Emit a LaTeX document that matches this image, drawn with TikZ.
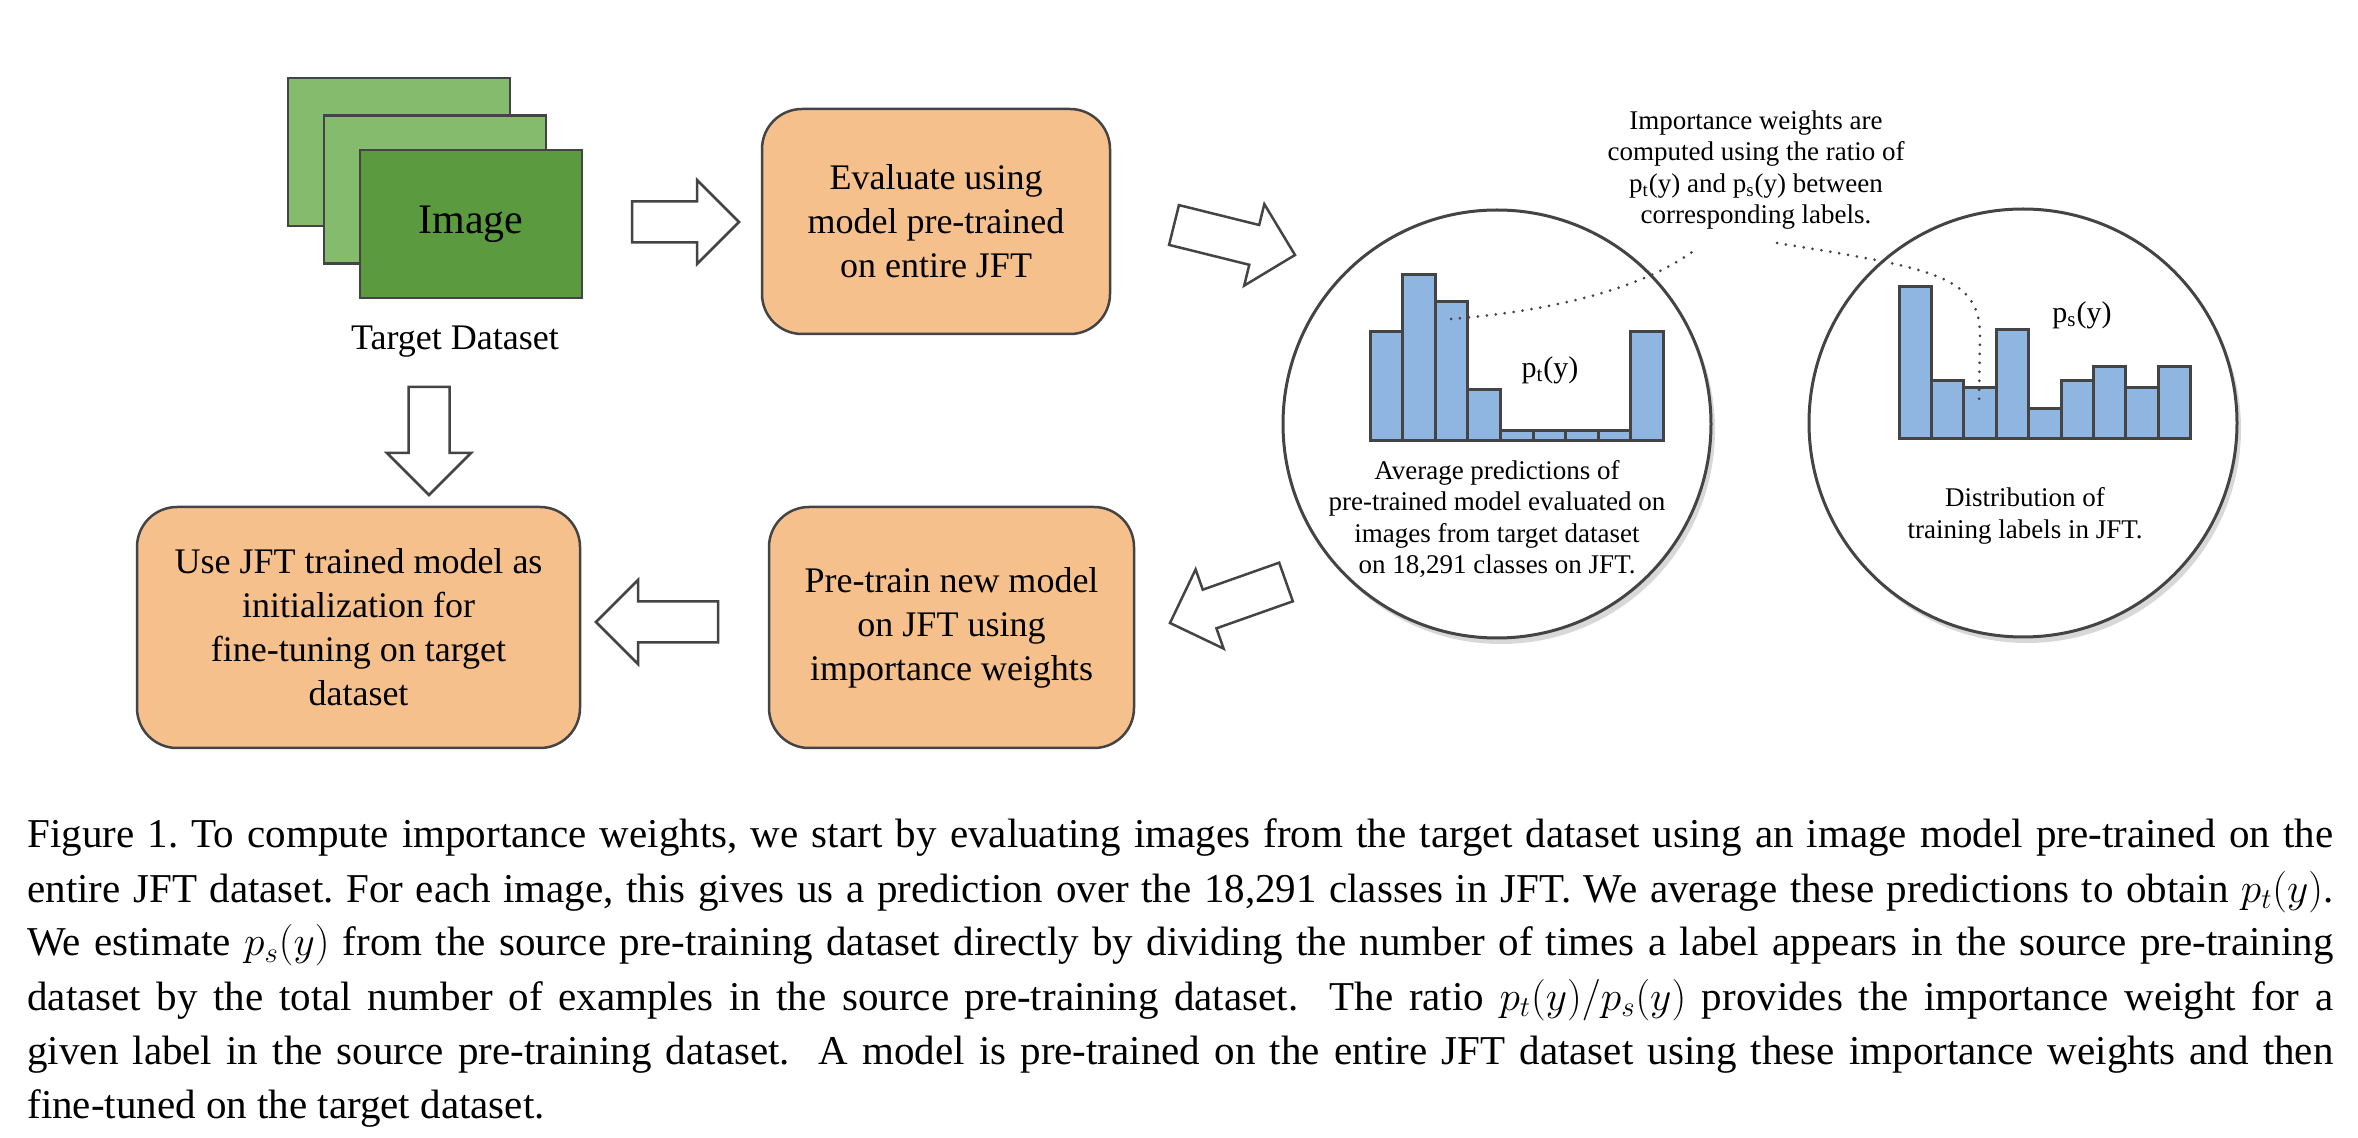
\documentclass[tikz,border=0pt]{standalone}
\usepackage{fontspec}
\setmainfont{Liberation Serif}
\usetikzlibrary{calc,shadows}

\definecolor{boxorange}{RGB}{246,192,140}
\definecolor{imglight}{RGB}{133,187,108}
\definecolor{imgdark}{RGB}{91,154,63}
\definecolor{barblue}{RGB}{142,182,225}
\definecolor{edgegray}{RGB}{68,68,68}

\newcommand{\boxfont}{\fontsize{18pt}{22pt}\selectfont}
\newcommand{\notefont}{\fontsize{13.5pt}{15.75pt}\selectfont}
\newcommand{\capfont}{\fontsize{20.5pt}{26pt}\selectfont\frenchspacing}

\newcommand{\fatarrow}[2]{%
	\coordinate (hb) at ($(#2)!21pt!(#1)$);
	\draw[blockarrow] ($(#1)!10.25pt!90:(#2)$) -- ($(hb)!10.25pt!-90:(#1)$) -- ($(hb)!21pt!-90:(#1)$) -- (#2) -- ($(hb)!21pt!90:(#1)$) -- ($(hb)!10.25pt!90:(#1)$) -- ($(#1)!10.25pt!-90:(#2)$) -- cycle;}

\begin{document}
\begin{tikzpicture}[x=0.5pt,y=0.5pt,yscale=-1,xscale=1,
	stepbox/.style={draw=edgegray, line width=1.25pt, fill=boxorange, rounded corners=20pt, align=center, font=\boxfont},
	imgcard/.style={draw=edgegray, line width=1.25pt, minimum width=111pt, minimum height=74pt, inner sep=0pt},
	bubble/.style={circle, draw=edgegray, line width=1.5pt, fill=white, minimum size=214pt, inner sep=0pt, drop shadow={shadow xshift=2pt, shadow yshift=-3pt, opacity=0.3}},
	bar/.style={draw=edgegray, line width=1.5pt, fill=barblue},
	blockarrow/.style={draw=edgegray, line width=1.25pt, fill=white, line join=miter},
	dotline/.style={draw=edgegray, line width=1.5pt, line cap=round, dash pattern=on 0pt off 4.5pt},
	captext/.style={font=\capfont, inner sep=0pt, anchor=base west}]
		\useasboundingbox (0,0) rectangle (2358,1138);
		\fill[white] (0,0) rectangle (2358,1138);
		\node[imgcard, fill=imglight] (back) at (399,152) {};
		\node[imgcard, fill=imglight] (middle) at (435,189.5) {};
		\node[imgcard, fill=imgdark, font=\fontsize{21pt}{25pt}\selectfont] (front) at (471,224) {Image};
		\node[anchor=base, inner sep=0pt, font=\boxfont] (target) at (455,350) {Target Dataset};
		\node[stepbox, minimum width=174pt, minimum height=112.5pt] (eval) at (936,221.5) {Evaluate using\\model pre-trained\\on entire JFT};
		\node[stepbox, minimum width=182.5pt, minimum height=120.5pt] (pretrain) at (951.5,627.5) {Pre-train new model\\on JFT using\\importance weights};
		\node[stepbox, minimum width=221.5pt, minimum height=120.5pt] (usejft) at (358.5,627.5) {Use JFT trained model as\\initialization for\\fine-tuning on target\\dataset};
		\node[bubble] (ptcircle) at (1497,424) {};
		\node[bubble] (pscircle) at (2023,423) {};
		\foreach \h [count=\i] in {109,166,139,51,10,10,10,10,109}
			\draw[bar] ({1370+(\i-1)*32.6},441) rectangle ++(32.6,-\h);
		\foreach \h [count=\i] in {152,58,51,109,30,58,72,51,72}
			\draw[bar] ({1899+(\i-1)*32.4},439) rectangle ++(32.4,-\h);
		\node[font=\fontsize{15pt}{18pt}\selectfont, inner sep=0pt] (ptlabel) at (1550,370) {p\textsubscript{t}(y)};
		\node[font=\fontsize{15pt}{18pt}\selectfont, inner sep=0pt] (pslabel) at (2082,315) {p\textsubscript{s}(y)};
		\node[align=center, font=\notefont, inner sep=0pt] (ptnote) at (1497,519) {Average predictions of\\pre-trained model evaluated on\\images from target dataset\\on 18,291 classes on JFT.};
		\node[align=center, font=\notefont, inner sep=0pt] (psnote) at (2025,516) {Distribution of\\training labels in JFT.};
		\node[align=center, font=\notefont, inner sep=0pt] (ratio) at (1756,170) {Importance weights are\\computed using the ratio of\\p\textsubscript{t}(y) and p\textsubscript{s}(y) between\\corresponding labels.};
		\coordinate (ptmark) at (1451,319);
		\coordinate (ratioL) at (1696,249);
		\coordinate (ratioR) at (1777,243);
		\coordinate (psmark) at (1979,402);
		\draw[dotline] (ptmark) .. controls (1540,312) and (1640,292) .. (ratioL);
		\draw[dotline] (ratioR) .. controls (1930,268) and (1980,275) .. (1980,335) -- (psmark);
		\coordinate (a1s) at (632,222);
		\coordinate (a1e) at (739,222);
		\coordinate (a2s) at (1174,225);
		\coordinate (a2e) at (1295,255);
		\coordinate (a3s) at (429,387);
		\coordinate (a3e) at (429,495);
		\coordinate (a4s) at (1286,582);
		\coordinate (a4e) at (1170,623);
		\coordinate (a5s) at (718,622);
		\coordinate (a5e) at (596,622);
		\fatarrow{a1s}{a1e}
		\fatarrow{a2s}{a2e}
		\fatarrow{a3s}{a3e}
		\fatarrow{a4s}{a4e}
		\fatarrow{a5s}{a5e}
		\node[captext] (cap1) at (27,848) {\makebox[1153pt][s]{Figure 1. To compute importance weights, we start by evaluating images from the target dataset using an image model pre-trained on the}};
		\node[captext] (cap2) at (27,902) {\makebox[1153pt][s]{entire JFT dataset. For each image, this gives us a prediction over the 18,291 classes in JFT. We average these predictions to obtain $p_t(y)$.}};
		\node[captext] (cap3) at (27,956) {\makebox[1153pt][s]{We estimate $p_s(y)$ from the source pre-training dataset directly by dividing the number of times a label appears in the source pre-training}};
		\node[captext] (cap4) at (27,1010) {\makebox[1153pt][s]{dataset by the total number of examples in the source pre-training dataset.~ The ratio $p_t(y)/p_s(y)$ provides the importance weight for a}};
		\node[captext] (cap5) at (27,1064) {\makebox[1153pt][s]{given label in the source pre-training dataset.~ A model is pre-trained on the entire JFT dataset using these importance weights and then}};
		\node[captext] (cap6) at (27,1118) {fine-tuned on the target dataset.};
		\end{tikzpicture}
\end{document}
